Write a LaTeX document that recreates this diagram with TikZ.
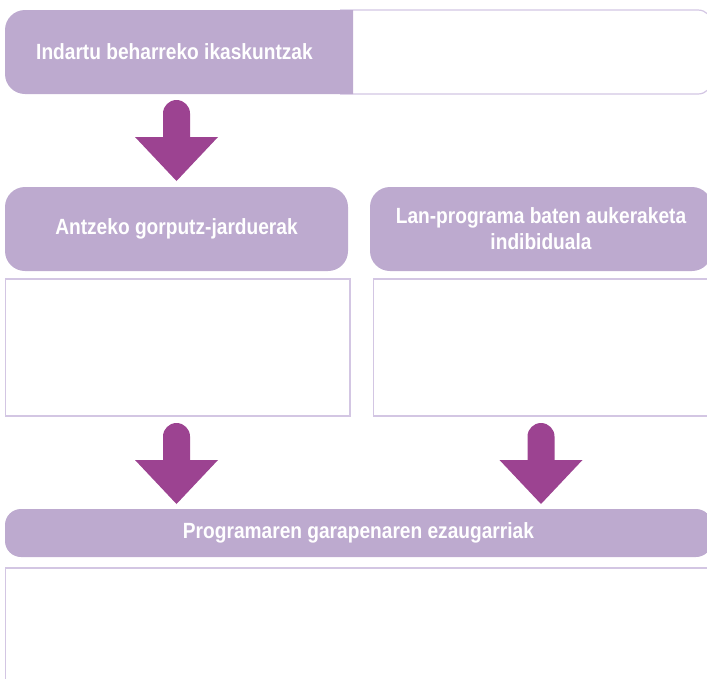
\documentclass[tikz,border=0pt]{standalone}
\usepackage{fontspec}
\setmainfont{Liberation Sans}[FakeStretch=0.87]
\usetikzlibrary{positioning}

\definecolor{lila}{HTML}{BDAACF}
\definecolor{lilaline}{HTML}{D3C6E3}
\definecolor{arrowpurple}{HTML}{9C4391}

\begin{document}
\begin{tikzpicture}[x=1pt,y=1pt,
      title/.style={text=white,font=\bfseries\fontsize{22}{26}\selectfont,align=center,inner sep=0pt},
      purplebox/.style={fill=lila,rounded corners=20},
      answerbox/.style={draw=lilaline,line width=1.2pt,fill=white},
      bigarrow/.pic={
          \fill[arrowpurple] (-13.5,-37) -- (-13.5,-13.5) arc[start angle=180,end angle=0,radius=13.5]
                -- (13.5,-37) -- (41.5,-37) -- (0,-81) -- (-41.5,-37) -- cycle;
      }]
                  \useasboundingbox (0,0) rectangle (707,-678);
                  \def\xl{5} \def\xr{712}

                  % top row: learning to reinforce
                  \draw[lilaline,line width=1.2pt,rounded corners=14] (340,-10) -- (\xr,-10) -- (\xr,-94) -- (340,-94);
                  \fill[lila,rounded corners=20] (353,-10) -- (\xl,-10) -- (\xl,-94) -- (353,-94);
                  \node[title,anchor=west] (goal) at (36,-52) {Indartu beharreko ikaskuntzak};

                  % middle row
                  \fill[purplebox] (\xl,-187) rectangle (348,-271);
                  \fill[purplebox] (370,-187) rectangle (\xr,-271);
                  \node[title] (similar) at (176.5,-229) {Antzeko gorputz-jarduerak};
                  \node[title] (choice) at (541,-229) {Lan-programa baten aukeraketa\\indibiduala};
                  \draw[answerbox] (5.6,-279) rectangle (350,-416);
                  \draw[answerbox] (373.6,-279) rectangle (\xr,-416);

                  % bottom row
                  \fill[lila,rounded corners=16] (\xl,-509) rectangle (\xr,-557);
                  \node[title] (features) at (358.5,-533) {Programaren garapenaren ezaugarriak};
                  \draw[answerbox] (5.6,-568) rectangle (\xr,-700);

                  % arrows
                  \pic at (176.5,-100) {bigarrow};
                  \foreach \ax in {176.5,541}
                      \pic at (\ax,-423) {bigarrow};
              \end{tikzpicture}
\end{document}
